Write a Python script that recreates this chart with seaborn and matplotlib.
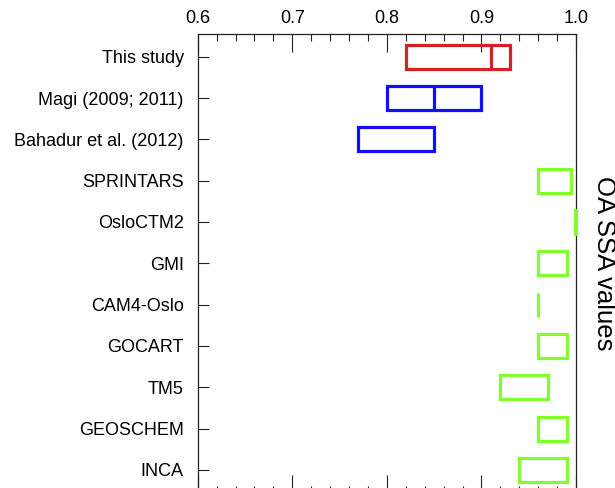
import numpy as np
import pandas as pd
import matplotlib
matplotlib.use("Agg")
import matplotlib.pyplot as plt
from matplotlib.ticker import MultipleLocator
import seaborn as sns

categories = ["This study", "Magi (2009; 2011)", "Bahadur et al. (2012)", "SPRINTARS",
              "OsloCTM2", "GMI", "CAM4-Oslo", "GOCART", "TM5", "GEOSCHEM", "INCA"]
ssa_low = [0.82, 0.80, 0.77, 0.96, 0.999, 0.96, 0.96, 0.96, 0.92, 0.96, 0.94]
ssa_high = [0.93, 0.90, 0.85, 0.995, 1.0, 0.99, 0.96, 0.99, 0.97, 0.99, 0.99]
ssa_median = [0.91, 0.85, np.nan, np.nan, np.nan, np.nan, np.nan, np.nan, np.nan, np.nan, np.nan]
groups = ["This study", "Observation", "Observation"] + ["Model"] * 8
x_ticks = [0.6, 0.7, 0.8, 0.9, 1.0]

palette = {"This study": "#d42027", "Observation": "#1010ff", "Model": "#80ff2a"}

df = pd.DataFrame({"category": categories, "low": ssa_low, "high": ssa_high,
                   "median": ssa_median, "group": groups})
df["pos"] = np.arange(len(df))

sns.set_theme(style="white")
plt.rcParams["font.family"] = ["Liberation Sans", "DejaVu Sans"]
plt.rcParams["text.color"] = "black"
plt.rcParams["xtick.color"] = "black"
plt.rcParams["ytick.color"] = "black"

fig = plt.figure(figsize=(6.15, 4.88), dpi=100)
ax = fig.add_axes([0.3215, -0.0102, 0.6151, 0.9405])

half = 0.29
for _, r in df.iterrows():
    col = palette[r["group"]]
    ax.barh(r["pos"], r["high"] - r["low"], left=r["low"], height=2 * half,
            fill=False, edgecolor=col, linewidth=2.3, clip_on=False, zorder=3)
    if not np.isnan(r["median"]):
        ax.vlines(r["median"], r["pos"] - half, r["pos"] + half, color=col,
                  linewidth=2.3, zorder=3)

ax.set_xlim(0.6, 1.0)
ax.set_ylim(len(df) - 1 + 0.56, -0.55)
ax.set_yticks(df["pos"])
ax.set_yticklabels(categories, fontsize=13, color="black")
ax.set_xticks(x_ticks)
ax.set_xticklabels([f"{v:.1f}" for v in x_ticks], fontsize=13, color="black")
ax.xaxis.set_minor_locator(MultipleLocator(0.02))
ax.xaxis.tick_top()
ax.tick_params(axis="x", which="major", direction="in", length=13, width=0.8,
               color="#222222", top=True, bottom=True, labeltop=True,
               labelbottom=False, pad=5)
ax.tick_params(axis="x", which="minor", direction="in", length=5, width=0.8,
               color="#222222", top=True, bottom=True)
ax.tick_params(axis="y", which="major", direction="in", length=8, width=0.8,
               color="#222222", left=True, right=False, pad=10)
for s in ax.spines.values():
    s.set_color("#222222")
    s.set_linewidth(0.9)
ax.set_xlabel("")
ax.set_ylabel("")
ax.text(1.074, 0.5, "OA SSA values", transform=ax.transAxes, rotation=270,
        ha="center", va="center", fontsize=18.5, color="black")

fig.savefig("out.png", dpi=100)
